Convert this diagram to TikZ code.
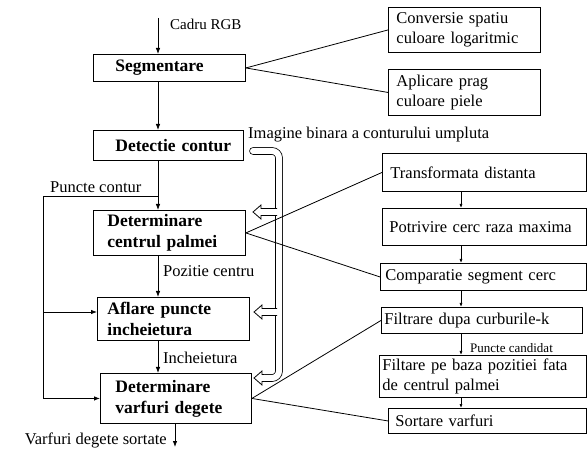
\documentclass[tikz,border=0pt]{standalone}
\usepackage{fontspec}
\setmainfont{Liberation Serif}
\usetikzlibrary{arrows.meta,calc}
\tikzset{
	block/.style={draw=black, line width=0.9pt, anchor=north west, align=left, inner ysep=1pt, font=\fontsize{16.5}{20}\selectfont},
	stage/.style={block, font=\fontsize{17.5}{21}\selectfont\bfseries},
	lbl/.style={inner sep=0pt, font=\fontsize{16.5}{20}\selectfont},
	flow/.style={-{Latex[length=6pt,width=4.5pt]}, line width=0.8pt},
	sflow/.style={-{Latex[length=4pt,width=3pt]}, line width=0.7pt},
	tie/.style={line width=0.8pt},
}
\newcommand\Tap[3]{%
	\begin{scope}[shift={(#1,#2)}]
		\filldraw[fill=white, line width=0.8pt] (8+#3,-3.5) -- (8,-3.5) -- (8,-7) -- (0,0) -- (8,7) -- (8,3.5) -- (8+#3,3.5);
	\end{scope}
	}

\begin{document}
\begin{tikzpicture}[x=1pt, y=-1pt]
		\useasboundingbox (0,0) rectangle (587,449);
		% left column
		\node[stage, minimum width=152pt, minimum height=27pt, inner xsep=22pt, text width=108pt] (seg) at (93,54) {\mbox{Segmentare}};
		\node[stage, minimum width=150pt, minimum height=30pt, inner xsep=22pt, text width=106pt] (det) at (93,130) {\mbox{Detectie contur}};
		\node[stage, minimum width=152pt, minimum height=45pt, inner xsep=14pt, text width=124pt] (cent) at (93,210) {\mbox{Determinare}\\\mbox{centrul palmei}};
		\node[stage, minimum width=152pt, minimum height=43pt, inner xsep=10pt, text width=132pt] (afl) at (97,297) {\mbox{Aflare puncte}\\\mbox{incheietura}};
		\node[stage, minimum width=151pt, minimum height=50pt, inner xsep=15pt, text width=121pt] (varf) at (100,373) {\mbox{Determinare}\\\mbox{varfuri degete}};
		
		% right column
		\node[block, minimum width=152pt, minimum height=45pt, inner xsep=8pt, text width=136pt] (conv) at (388,7) {\mbox{Conversie spatiu}\\\mbox{culoare logaritmic}};
		\node[block, minimum width=152pt, minimum height=46pt, inner xsep=8pt, text width=136pt] (apl) at (388,69) {\mbox{Aplicare prag}\\\mbox{culoare piele}};
		\node[block, minimum width=204pt, minimum height=38pt, inner xsep=8pt, text width=188pt] (trans) at (382,153) {\mbox{Transformata distanta}};
		\node[block, minimum width=204pt, minimum height=37pt, inner xsep=7pt, text width=190pt] (pot) at (382,208) {\mbox{Potrivire cerc raza maxima}};
		\node[block, minimum width=206pt, minimum height=27pt, inner xsep=5pt, text width=196pt] (comp) at (380,263) {\mbox{Comparatie segment cerc}};
		\node[block, minimum width=201pt, minimum height=26pt, inner xsep=3pt, text width=195pt] (filt) at (381,307) {\mbox{Filtrare dupa curburile-k}};
		\node[block, minimum width=207pt, minimum height=42pt, inner xsep=3pt, text width=201pt] (poz) at (379,355) {\mbox{Filtare pe baza pozitiei fata}\\\mbox{de centrul palmei}};
		\node[block, minimum width=198pt, minimum height=25pt, inner xsep=7pt, text width=184pt] (sort) at (388,408) {\mbox{Sortare varfuri}};
		
		\coordinate (in) at (158,18);
		\coordinate (pc) at (158,196);
		\coordinate (pcl) at (43,196);
		\coordinate (aflin) at ($(afl.north west)+(0,15)$);
		\coordinate (rc) at (461,0);
		\coordinate (out) at (175,447);
		
		% labels
		\node[lbl, anchor=west, font=\fontsize{15}{18}\selectfont] (cadru) at (170,24) {Cadru RGB};
		\node[lbl, anchor=west] (imag) at (248,135) {Imagine binara a conturului umpluta};
		\node[lbl, anchor=west] (pcont) at (50,187) {Puncte contur};
		\node[lbl, anchor=west] (pcen) at (163,271) {Pozitie centru};
		\node[lbl, anchor=west] (inch) at (163,358) {Incheietura};
		\node[lbl, anchor=east] (vds) at (167,440) {Varfuri degete sortate};
		\node[lbl, anchor=west, font=\fontsize{13}{16}\selectfont] (pcand) at (470,348) {Puncte candidat};
		
		% main flow
		\draw[flow] (in) -- (in |- seg.north);
		\draw[flow] (seg.south -| in) -- (det.north -| in);
		\draw[flow] (det.south -| in) -- (cent.north -| in);
		\draw[flow] (cent.south -| in) -- (afl.north -| in);
		\draw[flow] (afl.south -| in) -- (varf.north -| in);
		\draw[flow] (varf.south -| out) -- (out);
		\draw[tie] (pc) -- (pcl) -- (pcl |- varf.west);
		\draw[flow] (pcl |- aflin) -- (aflin);
		\draw[flow] (pcl |- varf.west) -- (varf.west);
		
		% filled contour image
		\draw[line width=0.8pt, double=white, double distance=6pt, rounded corners=7pt, line cap=round] (253,151) -- (279,151) -- (279,378) -- (263,378);
		\Tap{253}{212}{16}
		\Tap{254}{312}{15}
		\Tap{254}{378}{2}
		
		% sub steps
		\draw[tie] (seg.east) -- (conv.west);
		\draw[tie] (seg.east) -- (apl.west);
		\draw[tie] (cent.east) -- (trans.west);
		\draw[tie] (cent.east) -- (comp.west);
		\draw[tie] (varf.east) -- (filt.west);
		\draw[tie] (varf.east) -- (sort.west);
		\draw[sflow] (trans.south -| rc) -- (pot.north -| rc);
		\draw[sflow] (pot.south -| rc) -- (comp.north -| rc);
		\draw[sflow] (comp.south -| rc) -- (filt.north -| rc);
		\draw[sflow] (filt.south -| rc) -- (poz.north -| rc);
		\draw[sflow] (poz.south -| rc) -- (sort.north -| rc);
		
\end{tikzpicture}
\end{document}
